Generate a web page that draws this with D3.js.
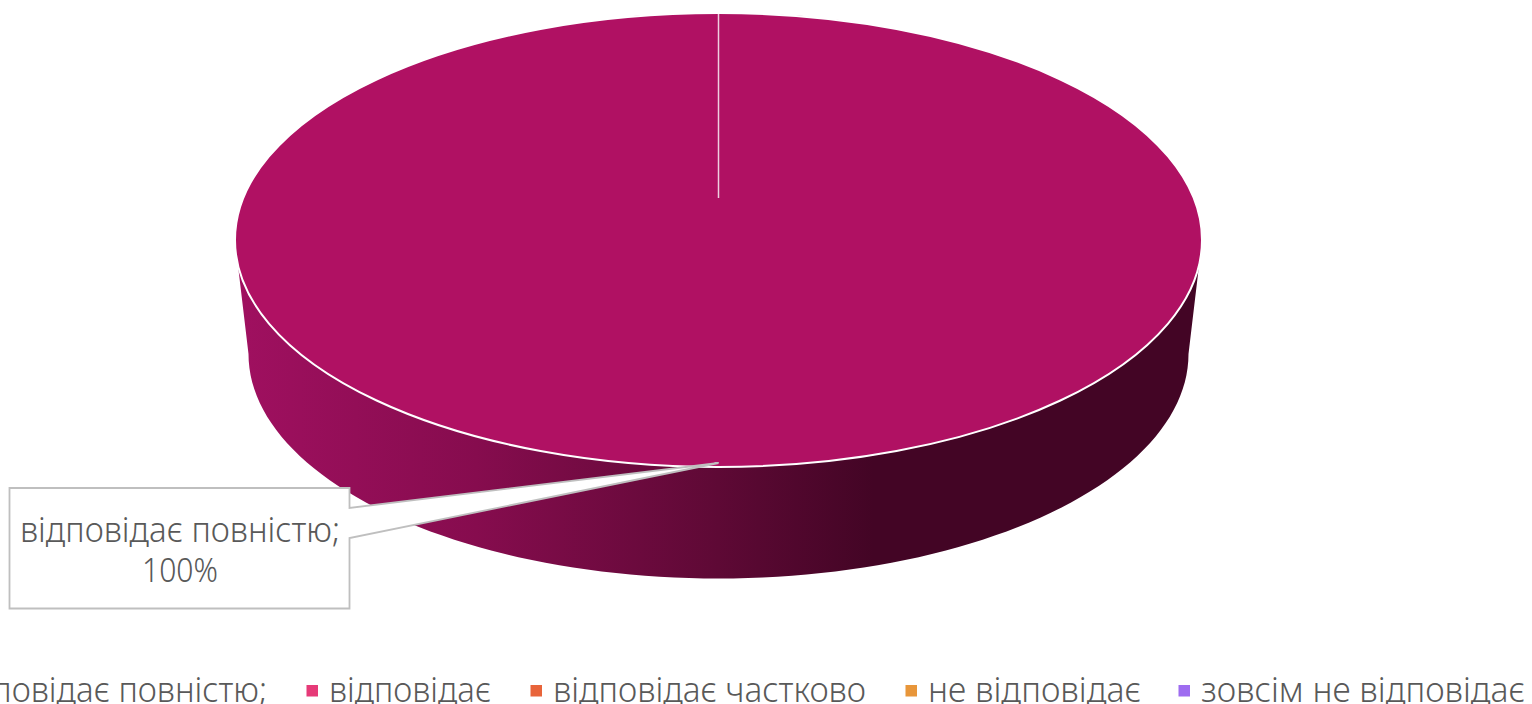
<!DOCTYPE html>
<html>
<head>
<meta charset="utf-8">
<script src="https://cdn.jsdelivr.net/npm/d3@7"></script>
<style>
  html, body { margin: 0; padding: 0; background: #fff; overflow: hidden; }
  svg { display: block; }
  text { font-family: "Noto Sans", sans-serif; font-weight: 300; fill: #595959; }
</style>
</head>
<body>
<div id="chart"></div>
<script>
// Data
const categories = ["відповідає повністю;", "відповідає", "відповідає частково", "не відповідає", "зовсім не відповідає"];
const values = [100, 0, 0, 0, 0];
const colors = ["#b01163", "#e63a78", "#e8643a", "#e8963a", "#9e6cf0"];
const calloutLines = ["відповідає повністю;", "100%"];

const width = 1532, height = 704;

// Disc geometry (top face and the slightly narrower bottom rim)
const cx = 718.5;
const topFace = { cy: 240, rx: 483.5, ry: 227 };
const bottomRim = { cy: 354, rx: 470, ry: 224.5 };
const seamEndY = 198;
const rimStart = 0.11; // angle below the horizontal where the side wall starts

// Legend layout: text start and text width per entry
const legendX = [-53, 329, 553, 928, 1201];
const legendW = [320, 162, 313, 213, 324];

const svg = d3.select("#chart").append("svg")
    .attr("width", width)
    .attr("height", height);

const defs = svg.append("defs");
const grad = defs.append("linearGradient")
    .attr("id", "side")
    .attr("gradientUnits", "userSpaceOnUse")
    .attr("x1", cx - topFace.rx).attr("x2", cx + topFace.rx)
    .attr("y1", 0).attr("y2", 0);
[[0, "#a01060"], [0.25, "#860c4e"], [0.5, "#5e0935"], [0.66, "#430525"], [1, "#430525"]]
    .forEach(s => grad.append("stop").attr("offset", s[0]).attr("stop-color", s[1]));

const pie = d3.pie().sort(null)(values);

// point on an ellipse, angle measured clockwise from 12 o'clock
const onEllipse = (e, a) => [cx + e.rx * Math.sin(a), e.cy - e.ry * Math.cos(a)];

// Side wall
const a0 = Math.PI / 2 + rimStart, a1 = 3 * Math.PI / 2 - rimStart;
const wall = [
    ...d3.range(0, 1.0001, 0.01).map(t => onEllipse(bottomRim, Math.PI / 2 + t * Math.PI)),
    ...d3.range(1, -0.0001, -0.01).map(t => onEllipse(topFace, a0 + t * (a1 - a0)))
];
svg.append("path")
    .attr("d", d3.line()(wall) + "Z")
    .attr("fill", "url(#side)");

// Top face, drawn from the pie layout
const arc = d3.arc().innerRadius(0).outerRadius(topFace.rx);
svg.append("g")
    .attr("transform", `translate(${cx},${topFace.cy}) scale(1,${topFace.ry / topFace.rx})`)
    .selectAll("path")
    .data(pie.filter(d => d.value > 0))
    .join("path")
    .attr("d", arc)
    .attr("fill", d => colors[d.index])
    .attr("stroke", "#fff")
    .attr("stroke-width", 2)
    .attr("vector-effect", "non-scaling-stroke");

// Seam where the full slice starts
svg.append("line")
    .attr("x1", cx).attr("x2", cx)
    .attr("y1", topFace.cy - topFace.ry).attr("y2", seamEndY)
    .attr("stroke", "#fff")
    .attr("stroke-opacity", 0.8)
    .attr("stroke-width", 1.5);

// Callout
const box = { x0: 9.5, x1: 349.5, y0: 488, y1: 608.5 };
const tip = [718.5, 463];
const callout = [
    [box.x0, box.y0], [box.x1, box.y0], [box.x1, 508], tip, [box.x1, 538],
    [box.x1, box.y1], [box.x0, box.y1]
];
svg.append("path")
    .attr("d", d3.line()(callout) + "Z")
    .attr("fill", "#fff")
    .attr("stroke", "#bfbfbf")
    .attr("stroke-width", 1.8);

svg.selectAll("text.callout")
    .data(calloutLines)
    .join("text")
    .attr("class", "callout")
    .attr("x", 180)
    .attr("y", (d, i) => 542 + i * 39.5)
    .attr("text-anchor", "middle")
    .attr("font-size", (d, i) => i === 0 ? 35 : 33)
    .attr("textLength", (d, i) => i === 0 ? 320 : 76)
    .attr("lengthAdjust", "spacingAndGlyphs")
    .text(d => d);

// Legend
const legend = svg.selectAll("g.legend")
    .data(categories)
    .join("g")
    .attr("class", "legend");

legend.append("rect")
    .attr("x", (d, i) => legendX[i] - 22.5)
    .attr("y", 685)
    .attr("width", 11.5)
    .attr("height", 11.5)
    .attr("fill", (d, i) => colors[i]);

legend.append("text")
    .attr("x", (d, i) => legendX[i])
    .attr("y", 702)
    .attr("font-size", 35)
    .attr("textLength", (d, i) => legendW[i])
    .attr("lengthAdjust", "spacingAndGlyphs")
    .text(d => d);
</script>
</body>
</html>
